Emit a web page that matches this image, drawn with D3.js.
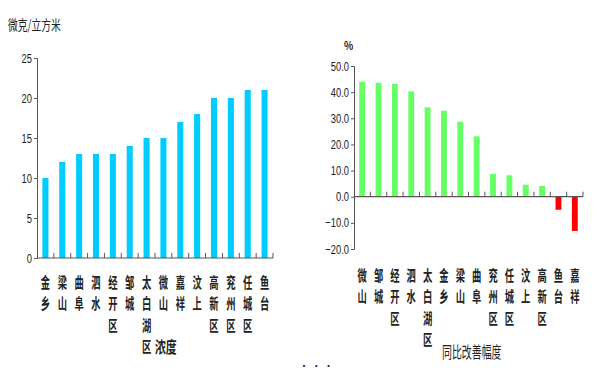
<!DOCTYPE html>
<html>
<head>
<meta http-equiv='Content-Type' content='text/html;charset=utf-8'/>
<title>浓度 / 同比改善幅度</title>
<script src='https://d3js.org/d3.v7.min.js'></script>
<style>
  body { margin: 0; background: #fff; }
  text { font-family: 'Noto Sans CJK SC', sans-serif; fill: #222; }
  .num { font-family: 'Liberation Sans', 'DejaVu Sans', sans-serif; }
</style>
</head>
<body>
<script>
'use strict';
// left chart: concentration
const concCities = ['金乡', '梁山', '曲阜', '泗水', '经开区', '邹城', '太白湖区', '微山', '嘉祥', '汶上', '高新区', '兖州区', '任城区', '鱼台'];
const concValues = [10, 12, 13, 13, 13, 14, 15, 15, 17, 18, 20, 20, 21, 21];
const concTicks = [0, 5, 10, 15, 20, 25];

// right chart: year-on-year improvement
const imprCities = ['微山', '邹城', '经开区', '泗水', '太白湖区', '金乡', '梁山', '曲阜', '兖州区', '任城区', '汶上', '高新区', '鱼台', '嘉祥'];
const imprValues = [44.0, 43.6, 43.1, 40.3, 34.2, 32.9, 28.7, 23.1, 8.7, 8.2, 4.6, 4.1, -5.0, -13.1];
const imprTicks = [-20, -10, 0, 10, 20, 30, 40, 50];

const svg = d3.select('body').append('svg')
  .attr('width', 600)
  .attr('height', 385);

svg.append('rect').attr('width', '100%').attr('height', '100%').attr('fill', '#ffffff');

const axisColor = '#555';
const narrow = 0.62;   // the source uses a condensed font

// condensed text helper: x,y are the anchor point
function ntext(parent, x, y, str, size, anchor, sx) {
  return parent.append('text')
    .attr('transform', `translate(${x},${y}) scale(${sx || narrow},1)`)
    .attr('text-anchor', anchor || 'start')
    .attr('font-size', size)
    .text(str);
}

function barChart(opt) {
  const x = d3.scaleBand().domain(opt.cats).range([opt.x0, opt.x1]).paddingInner(0.64).paddingOuter(0.32);
  const y = d3.scaleLinear().domain(opt.domain).range([opt.yBottom, opt.yTop]);
  const g = svg.append('g');

  g.selectAll('rect.bar')
    .data(opt.values)
    .enter().append('rect')
    .attr('class', 'bar')
    .attr('x', (d, i) => x(opt.cats[i]))
    .attr('width', x.bandwidth())
    .attr('y', d => y(Math.max(0, d)))
    .attr('height', d => Math.abs(y(d) - y(0)))
    .attr('fill', d => d < 0 ? opt.neg : opt.pos);

  // y axis
  const yAxis = d3.axisLeft(y).tickValues(opt.ticks).tickSize(3).tickFormat('');
  const ya = g.append('g').attr('transform', `translate(${opt.x0},0)`).call(yAxis);
  ya.select('.domain').attr('stroke', axisColor);
  ya.selectAll('.tick line').attr('stroke', axisColor);
  opt.ticks.forEach(t => {
    ntext(g, opt.x0 - 5, y(t) + 4.5, opt.fmt(t), 13, 'end', 0.72)
      .attr('class', 'num').attr('fill', '#333');
  });

  // category axis at zero with inward ticks between bars
  const y0 = y(0);
  g.append('line').attr('x1', opt.x0).attr('x2', opt.x1).attr('y1', y0).attr('y2', y0)
    .attr('stroke', axisColor).attr('stroke-width', 1.2);
  const step = x.step();
  g.selectAll('line.ct')
    .data(d3.range(1, opt.cats.length + 1))
    .enter().append('line')
    .attr('class', 'ct')
    .attr('x1', i => opt.x0 + step * i).attr('x2', i => opt.x0 + step * i)
    .attr('y1', y0).attr('y2', y0 - 5)
    .attr('stroke', axisColor);

  // vertical category labels
  opt.cats.forEach(c => {
    const cx = x(c) + x.bandwidth() / 2;
    Array.from(c).forEach((ch, j) => {
      ntext(g, cx, opt.labelTop + j * 21.3, ch, 15, 'middle').attr('font-weight', 'bold');
    });
  });
  return {x, y};
}

barChart({
  cats: concCities, values: concValues, ticks: concTicks,
  domain: [0, 25], x0: 37, x1: 273, yTop: 58, yBottom: 258,
  pos: '#00CCFF', neg: '#00CCFF', labelTop: 288, fmt: d3.format('d')
});

barChart({
  cats: imprCities, values: imprValues, ticks: imprTicks,
  domain: [-20, 50], x0: 354, x1: 583, yTop: 66, yBottom: 249,
  pos: '#66FF66', neg: '#FF0000', labelTop: 281, fmt: d3.format('.1f')
});

// titles and units
ntext(svg, 8, 30, '微克/立方米', 14, 'start', 0.7);
ntext(svg, 155, 353, '浓度', 16, 'start', 0.68).attr('font-weight', 'bold');
ntext(svg, 344, 50, '%', 12, 'start', 0.8).attr('font-weight', 'bold');
ntext(svg, 442, 358, '同比改善幅度', 16, 'start', 0.62);
svg.append('text').attr('x', 299).attr('y', 370).attr('font-size', 10).attr('fill', '#777').text('· · ·');
</script>
</body>
</html>
